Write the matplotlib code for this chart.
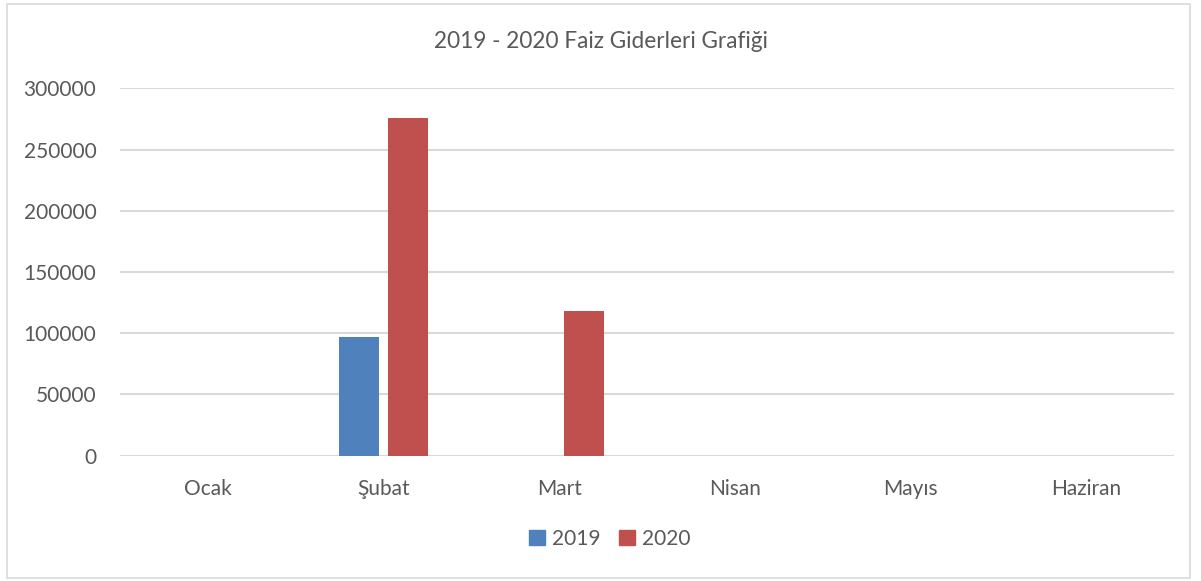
import matplotlib
matplotlib.use("Agg")
import matplotlib.pyplot as plt
from matplotlib.patches import Rectangle, Patch
import numpy as np

months = ["Ocak", "Şubat", "Mart", "Nisan", "Mayıs", "Haziran"]
values_2019 = [0, 96900, 0, 0, 0, 0]
values_2020 = [0, 276000, 117900, 0, 0, 0]
series_names = ["2019", "2020"]
yticks = [0, 50000, 100000, 150000, 200000, 250000, 300000]
title = "2019 - 2020 Faiz Giderleri Grafiği"

plt.rcParams['font.family'] = ['Lato', 'DejaVu Sans']
W, H = 1201, 581
fig = plt.figure(figsize=(W / 100, H / 100), dpi=100)

# outer border
fig.patches.append(Rectangle((7 / W, 3 / H), (1190 - 7) / W, (577.5 - 3) / H,
                             transform=fig.transFigure, fill=False,
                             edgecolor="#D9D9D9", linewidth=1.2))

left, right = 120 / W, 1174 / W
bottom, top = 1 - 455.7 / H, 1 - 88.3 / H
ax = fig.add_axes([left, bottom, right - left, top - bottom])

x = np.arange(len(months))
bw = 0.228
off = 0.142
c1, c2 = "#4F81BD", "#C0504D"
ax.bar(x - off, values_2019, bw, color=c1, zorder=3)
ax.bar(x + off, values_2020, bw, color=c2, zorder=3)

ax.set_xlim(-0.5, len(months) - 0.5)
ax.set_ylim(0, 300000)
ax.set_yticks(yticks)
ax.set_yticklabels([str(v) for v in yticks])
ax.set_xticks(x)
ax.set_xticklabels(months)
ax.yaxis.grid(True, color="#D9D9D9", linewidth=1.5, zorder=0)
ax.set_axisbelow(True)
for s in ax.spines.values():
    s.set_visible(False)
ax.tick_params(axis="both", length=0, labelsize=15, labelcolor="#595959")
ax.tick_params(axis="y", pad=17)
ax.tick_params(axis="x", pad=17)

fig.text(0.5, 1 - 42 / H, title, ha="center", va="center", fontsize=16.3, color="#595959")

handles = [Patch(facecolor=c1, edgecolor=c1), Patch(facecolor=c2, edgecolor=c2)]
fig.legend(handles, series_names, loc="center", bbox_to_anchor=(0.508, 1 - 539 / H),
           ncol=2, frameon=False, fontsize=15, labelcolor="#595959",
           handlelength=0.75, handleheight=0.75, handletextpad=0.35, columnspacing=0.9)

fig.savefig("out.png", dpi=100, facecolor="white")
